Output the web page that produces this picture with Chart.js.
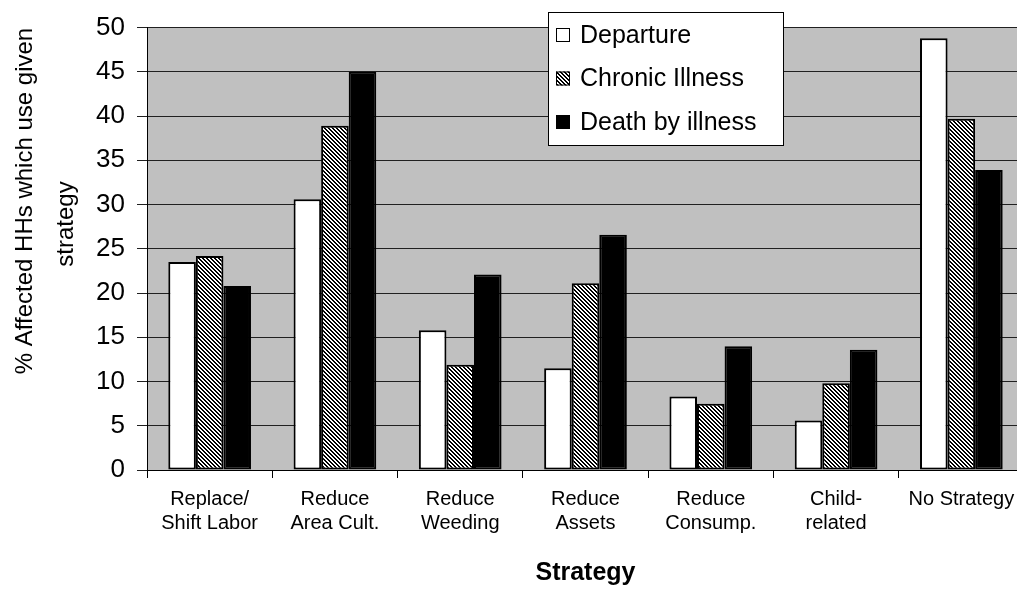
<!DOCTYPE html>
<html>
<head>
<meta charset="utf-8">
<script src="https://cdn.jsdelivr.net/npm/chart.js@4/dist/chart.umd.min.js"></script>
<style>
  html, body { margin: 0; padding: 0; background: #fff; overflow: hidden; }
  #wrap { width: 1024px; height: 592px; position: relative; }
</style>
</head>
<body>
<div id="wrap"><canvas id="chart"></canvas></div>
<script>
  "use strict";

  // categories / series
  const categories = [
    ["Replace/", "Shift Labor"],
    ["Reduce", "Area Cult."],
    ["Reduce", "Weeding"],
    ["Reduce", "Assets"],
    ["Reduce", "Consump."],
    ["Child-", "related"],
    "No Strategy",
  ];
  const seriesNames = ["Departure", "Chronic Illness", "Death by illness"];
  const departure = [23.5, 30.6, 15.8, 11.5, 8.3, 5.6, 48.8];
  const chronicIllness = [24.2, 38.9, 11.9, 21.1, 7.5, 9.8, 39.7];
  const deathByIllness = [20.8, 45.0, 22.1, 26.6, 14.0, 13.6, 33.9];
  const yTicks = [0, 5, 10, 15, 20, 25, 30, 35, 40, 45, 50];
  const yTitleLines = ["% Affected HHs which use given", "strategy"];
  const xTitle = "Strategy";

  const FONT = '"Liberation Sans", Arial, sans-serif';

  // fine diagonal hatch used for "Chronic Illness"
  function makeHatch() {
    const c = document.createElement("canvas");
    c.width = 4;
    c.height = 4;
    const g = c.getContext("2d");
    g.fillStyle = "#fff";
    g.fillRect(0, 0, 4, 4);
    g.fillStyle = "#000";
    for (let y = 0; y < 4; y++) {
      for (let x = 0; x < 4; x++) {
        if ((x - y + 4) % 4 < 2) g.fillRect(x, y, 1, 1);
      }
    }
    return g.createPattern(c, "repeat");
  }
  const hatch = makeHatch();
  const fills = ["#ffffff", hatch, "#000000"];

  // gray plot background
  const plotBackground = {
    id: "plotBackground",
    beforeDraw(chart) {
      const { ctx, chartArea: a } = chart;
      ctx.save();
      ctx.fillStyle = "#fff";
      ctx.fillRect(0, 0, chart.width, chart.height);
      ctx.fillStyle = "#c0c0c0";
      ctx.fillRect(a.left, a.top, a.right - a.left, a.bottom - a.top);
      ctx.restore();
    },
  };

  // two-line rotated y title
  const yTitle = {
    id: "yTitle",
    afterDraw(chart) {
      const ctx = chart.ctx;
      const pos = [
        { x: 32, y: 201 },
        { x: 73, y: 224 },
      ];
      ctx.save();
      ctx.fillStyle = "#000";
      ctx.font = "24px " + FONT;
      ctx.textAlign = "center";
      ctx.textBaseline = "alphabetic";
      yTitleLines.forEach((line, i) => {
        ctx.save();
        ctx.translate(pos[i].x, pos[i].y);
        ctx.rotate(-Math.PI / 2);
        ctx.fillText(line, 0, 0);
        ctx.restore();
      });
      ctx.restore();
    },
  };

  // boxed legend sitting inside the plot
  const boxLegend = {
    id: "boxLegend",
    afterDraw(chart) {
      const ctx = chart.ctx;
      const box = { x: 548.5, y: 12.5, w: 235, h: 133 };
      ctx.save();
      ctx.fillStyle = "#fff";
      ctx.fillRect(box.x, box.y, box.w, box.h);
      ctx.strokeStyle = "#000";
      ctx.lineWidth = 1;
      ctx.strokeRect(box.x, box.y, box.w, box.h);
      ctx.font = "25px " + FONT;
      ctx.textBaseline = "middle";
      chart.data.datasets.forEach((ds, i) => {
        const cy = 35 + i * 43.5;
        ctx.fillStyle = ds.backgroundColor;
        ctx.fillRect(556, cy - 7, 14, 14);
        ctx.strokeStyle = "#000";
        ctx.lineWidth = 1;
        ctx.strokeRect(556.5, cy - 6.5, 13, 13);
        ctx.fillStyle = "#000";
        ctx.fillText(ds.label, 580, cy + 1);
      });
      ctx.restore();
    },
  };

  const datasets = [departure, chronicIllness, deathByIllness].map((vals, i) => ({
    label: seriesNames[i],
    data: vals,
    backgroundColor: fills[i],
    borderColor: "#000",
    borderWidth: 2,
    borderSkipped: false,
    categoryPercentage: 0.66,
    barPercentage: 1.0,
  }));

  new Chart(document.getElementById("chart"), {
    type: "bar",
    data: { labels: categories, datasets: datasets },
    plugins: [plotBackground, yTitle, boxLegend],
    options: {
      responsive: true,
      maintainAspectRatio: false,
      animation: false,
      layout: { padding: { top: 20, right: 0, bottom: 0, left: 0 } },
      plugins: {
        legend: { display: false },
        tooltip: { enabled: false },
      },
      scales: {
        x: {
          offset: true,
          grid: {
            display: true,
            offset: true,
            drawOnChartArea: false,
            tickLength: 8,
            color: "#000",
          },
          border: { color: "#000", width: 1 },
          ticks: {
            color: "#000",
            font: { family: FONT, size: 20, lineHeight: 1.2 },
            padding: 9,
            maxRotation: 0,
            autoSkip: false,
          },
          title: {
            display: true,
            text: xTitle,
            color: "#000",
            font: { family: FONT, size: 25, weight: "bold" },
            padding: { top: 0, bottom: 4 },
          },
          afterFit(scale) {
            scale.height = 122;
          },
        },
        y: {
          min: 0,
          max: 50,
          afterBuildTicks(scale) {
            scale.ticks = yTicks.map((v) => ({ value: v }));
          },
          grid: {
            color: "#202020",
            lineWidth: 1,
            tickLength: 10,
          },
          border: { color: "#000", width: 1 },
          ticks: {
            color: "#000",
            font: { family: FONT, size: 26 },
            padding: 12,
          },
          afterFit(scale) {
            scale.width = 147;
          },
        },
      },
    },
  });
</script>
</body>
</html>
